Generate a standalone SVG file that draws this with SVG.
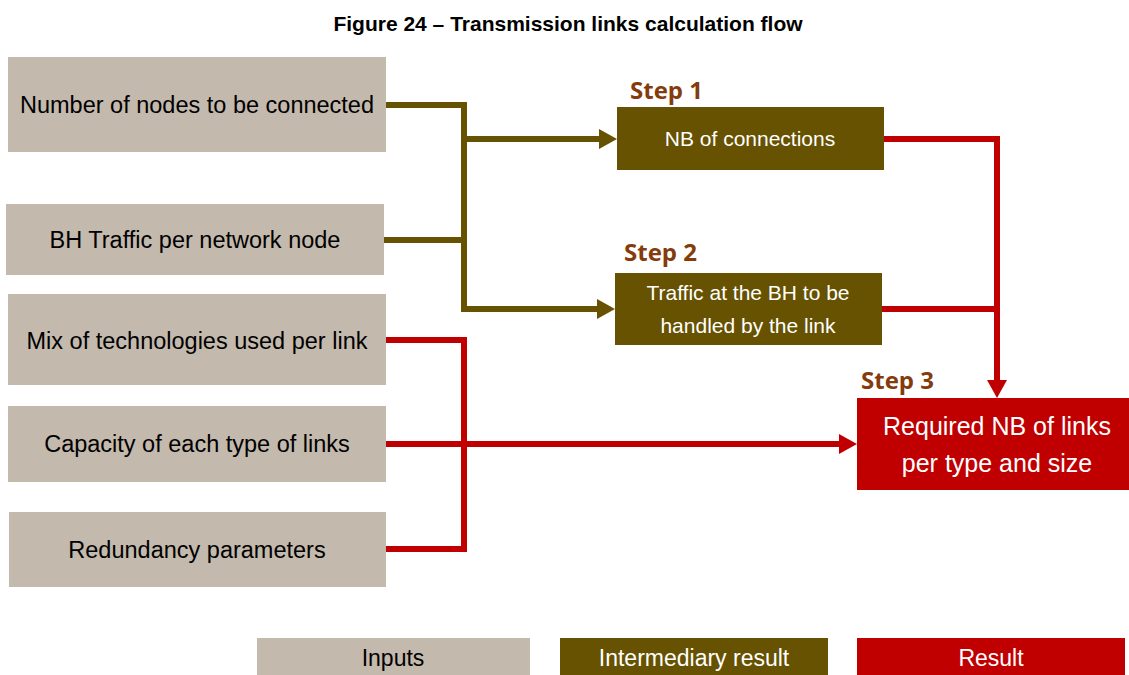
<svg xmlns="http://www.w3.org/2000/svg" width="1129" height="675" viewBox="0 0 1129 675">
<style>
.inp{fill:#C4B9AD}
.mid{fill:#665200}
.res{fill:#C00000}
.t{font-family:"Liberation Sans",Arial,sans-serif;text-anchor:middle}
.tin{font-size:23.5px;fill:#000}
.tw{fill:#fff}
.step{font-family:"Open Sans",Lato,sans-serif;font-weight:bold;font-size:24px;fill:#843C0C}
.co{fill:none;stroke:#665200;stroke-width:6;stroke-linejoin:miter}
.cr{fill:none;stroke:#C00000;stroke-width:6;stroke-linejoin:miter}
</style>
<defs>
<marker id="ao" markerUnits="userSpaceOnUse" markerWidth="20" markerHeight="20" refX="1" refY="10" orient="auto"><path d="M0,0 L18,10 L0,20 z" fill="#665200"/></marker>
<marker id="ar" markerUnits="userSpaceOnUse" markerWidth="20" markerHeight="20" refX="1" refY="10" orient="auto"><path d="M0,0 L18,10 L0,20 z" fill="#C00000"/></marker>
</defs>
<rect width="1129" height="675" fill="#fff"/>
<text class="t" x="568" y="31" font-size="21" font-weight="bold">Figure 24 – Transmission links calculation flow</text>

<g id="connectors">
<path class="co" d="M386,105 H464 V309 H598" marker-end="url(#ao)"/>
<path class="co" d="M464,139 H600" marker-end="url(#ao)"/>
<path class="co" d="M384,240 H464"/>
<path class="cr" d="M386,340 H464 V549 H386"/>
<path class="cr" d="M386,444 H840" marker-end="url(#ar)"/>
<path class="cr" d="M884,139 H997 V381" marker-end="url(#ar)"/>
<path class="cr" d="M882,309 H997"/>
</g>

<g id="n1"><rect class="inp" x="8" y="57" width="378" height="95"/><text class="t tin" x="197" y="113">Number of nodes to be connected</text></g>
<g id="n2"><rect class="inp" x="6" y="204" width="378" height="71"/><text class="t tin" x="195" y="248">BH Traffic per network node</text></g>
<g id="n3"><rect class="inp" x="8" y="294" width="378" height="91"/><text class="t tin" x="197" y="349">Mix of technologies used per link</text></g>
<g id="n4"><rect class="inp" x="8" y="406" width="378" height="76"/><text class="t tin" x="197" y="452">Capacity of each type of links</text></g>
<g id="n5"><rect class="inp" x="9" y="512" width="377" height="75"/><text class="t tin" x="197" y="558">Redundancy parameters</text></g>

<g id="step1"><text class="step" x="630" y="99">Step 1</text><rect class="mid" x="617" y="107" width="267" height="63"/><text class="t tw" x="750" y="146" font-size="21">NB of connections</text></g>
<g id="step2"><text class="step" x="624" y="261">Step 2</text><rect class="mid" x="615" y="273" width="267" height="72"/><text class="t tw" x="748" y="300" font-size="21">Traffic at the BH to be</text><text class="t tw" x="748" y="333" font-size="21">handled by the link</text></g>
<g id="step3"><text class="step" x="861" y="389">Step 3</text><rect class="res" x="857" y="398" width="272" height="92"/><text class="t tw" x="997" y="435" font-size="25">Required NB of links</text><text class="t tw" x="997" y="472" font-size="25">per type and size</text></g>

<g id="legend">
<rect class="inp" x="257" y="638" width="273" height="37"/><text class="t" x="393" y="666" font-size="23">Inputs</text>
<rect class="mid" x="560" y="638" width="268" height="37"/><text class="t tw" x="694" y="666" font-size="23">Intermediary result</text>
<rect class="res" x="857" y="638" width="268" height="37"/><text class="t tw" x="991" y="666" font-size="23">Result</text>
</g>
</svg>
